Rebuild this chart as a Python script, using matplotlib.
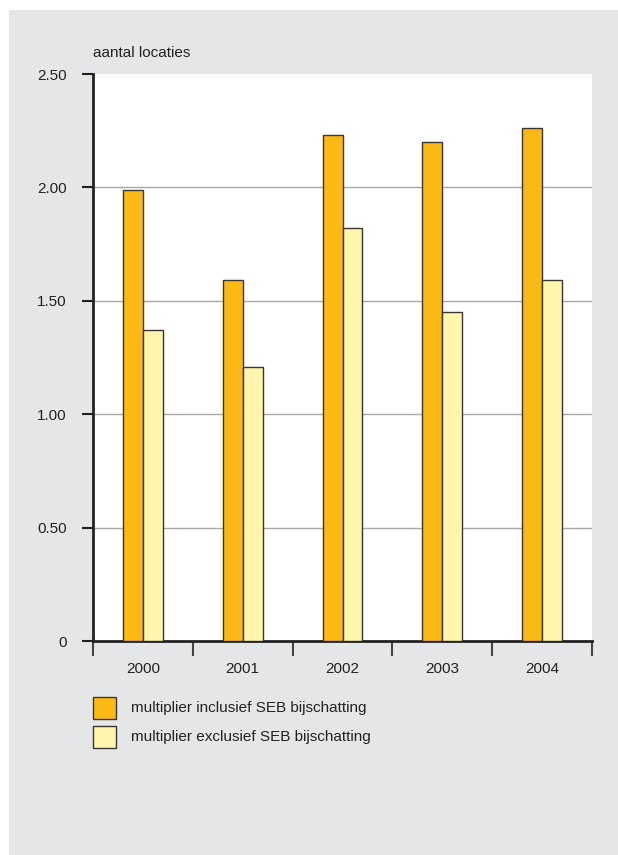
import numpy as np
import matplotlib.pyplot as plt
from matplotlib.patches import Rectangle

plt.rcParams['font.family'] = ['Liberation Sans', 'DejaVu Sans']

jaren = ['2000', '2001', '2002', '2003', '2004']
inclusief = [1.99, 1.59, 2.23, 2.20, 2.26]
exclusief = [1.37, 1.21, 1.82, 1.45, 1.59]
labels = ['multiplier inclusief SEB bijschatting', 'multiplier exclusief SEB bijschatting']

ORANJE = '#fbb916'
GEEL = '#fff5ad'
RAND = '#3a3530'
GRIJS = '#e5e6e8'
FS = 11

fig = plt.figure(figsize=(6.18, 8.55), dpi=100)
fig.patch.set_facecolor('white')
# grijs paneel achter alles
fig.patches.append(Rectangle((9 / 618, 0), 1 - 9 / 618, 1 - 10 / 855,
                             transform=fig.transFigure, facecolor=GRIJS,
                             edgecolor='none', zorder=-10))

ax = fig.add_axes([93 / 618, 1 - 641 / 855, (592 - 93) / 618, (641 - 74) / 855])
ax.set_facecolor('white')

x = np.arange(len(jaren))
w = 0.2
ax.bar(x - w / 2, inclusief, w, color=ORANJE, edgecolor=RAND, linewidth=1.0, zorder=3)
ax.bar(x + w / 2, exclusief, w, color=GEEL, edgecolor=RAND, linewidth=1.0, zorder=3)

ax.set_xlim(-0.5, len(jaren) - 0.5)
ax.set_ylim(0, 2.5)
ax.set_yticks([0, 0.5, 1.0, 1.5, 2.0, 2.5])
ax.set_yticklabels(['0', '0.50', '1.00', '1.50', '2.00', '2.50'])
for v in [0.5, 1.0, 1.5, 2.0]:
    ax.axhline(v, color='#a8a8a8', linewidth=1.0, zorder=1)

# jaartallen tussen de tick-streepjes
ax.set_xticks(np.arange(-0.5, len(jaren)), minor=False)
ax.set_xticklabels([])
ax.set_xticks(x, minor=True)
ax.set_xticklabels(jaren, minor=True)
ax.tick_params(axis='x', which='major', length=11, width=1.5, color='#444444', direction='out')
ax.tick_params(axis='x', which='minor', length=0, pad=15, labelsize=FS, labelcolor='#222222')
ax.tick_params(axis='y', length=8, width=1.5, color='#222222', pad=11, labelsize=FS, labelcolor='#222222')

for s in ['top', 'right']:
    ax.spines[s].set_visible(False)
for s in ['left', 'bottom']:
    ax.spines[s].set_linewidth(2.0)
    ax.spines[s].set_color('#222222')

fig.text(93 / 618, 1 - 53 / 855, 'aantal locaties', fontsize=FS, color='#222222',
         ha='left', va='center')

# legenda
kleuren = [ORANJE, GEEL]
for i, (lab, kl) in enumerate(zip(labels, kleuren)):
    y0 = 697 + i * 29
    fig.patches.append(Rectangle((93 / 618, 1 - (y0 + 22) / 855), 23 / 618, 22 / 855,
                                 transform=fig.transFigure, facecolor=kl,
                                 edgecolor=RAND, linewidth=1.0))
    fig.text(131 / 618, 1 - (y0 + 11) / 855, lab, fontsize=FS, color='#222222',
             ha='left', va='center')

fig.savefig('out.png', dpi=100, facecolor=fig.get_facecolor())
